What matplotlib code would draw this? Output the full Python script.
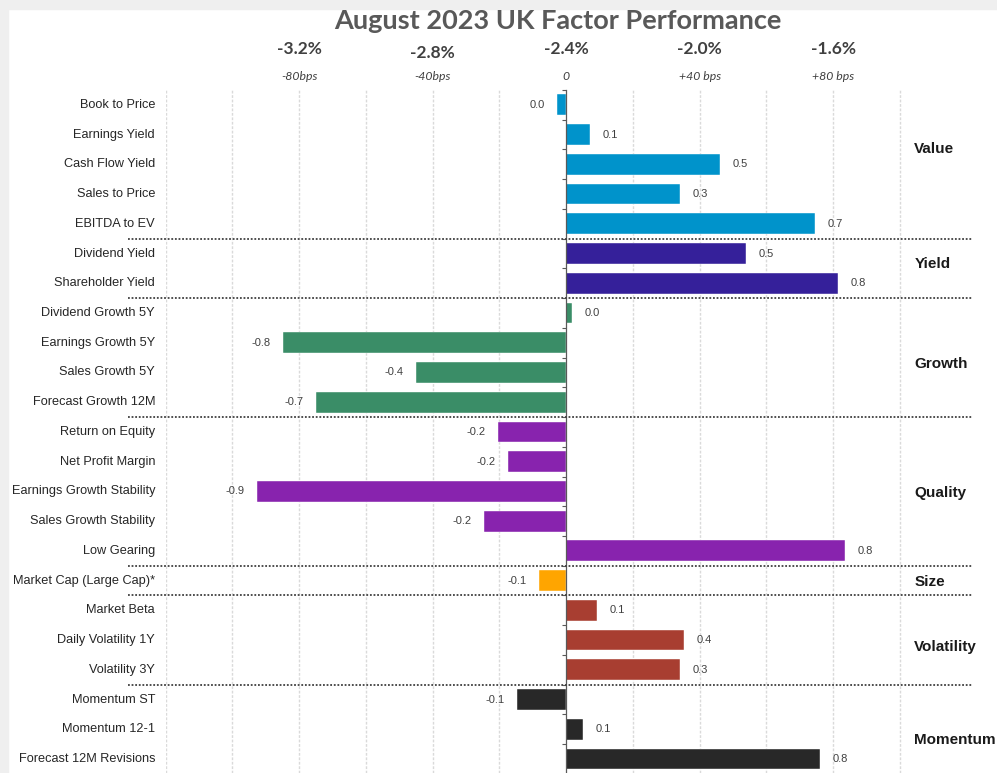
import matplotlib
matplotlib.use("Agg")
import matplotlib.pyplot as plt
from matplotlib.patches import Rectangle
import matplotlib.transforms as mtrans

# ---------------- data ----------------
factors = ["Book to Price", "Earnings Yield", "Cash Flow Yield", "Sales to Price", "EBITDA to EV",
           "Dividend Yield", "Shareholder Yield",
           "Dividend Growth 5Y", "Earnings Growth 5Y", "Sales Growth 5Y", "Forecast Growth 12M",
           "Return on Equity", "Net Profit Margin", "Earnings Growth Stability", "Sales Growth Stability", "Low Gearing",
           "Market Cap (Large Cap)*",
           "Market Beta", "Daily Volatility 1Y", "Volatility 3Y",
           "Momentum ST", "Momentum 12-1", "Forecast 12M Revisions"]
values = [-0.027, 0.072, 0.46, 0.342, 0.745,
          0.54, 0.815,
          0.018, -0.847, -0.449, -0.749,
          -0.203, -0.173, -0.927, -0.245, 0.837,
          -0.08,
          0.093, 0.354, 0.342,
          -0.147, 0.052, 0.762]
groups = ["Value", "Yield", "Growth", "Quality", "Size", "Volatility", "Momentum"]
group_sizes = [5, 2, 4, 5, 1, 3, 3]
group_colors = ["#0093CB", "#35209A", "#3A8D67", "#8823AE", "#FFA500", "#A83E31", "#282828"]
group_label_rows = [1.5, 5.35, 8.7, 13.05, 16.05, 18.23, 21.36]
benchmark = -2.4
top_ticks = [-0.8, -0.4, 0.0, 0.4, 0.8]
top_tick_labels = ["-3.2%", "-2.8%", "-2.4%", "-2.0%", "-1.6%"]
bps_labels = ["-80bps", "-40bps", "0", "+40 bps", "+80 bps"]
grid_ticks = [-1.2, -1.0, -0.8, -0.6, -0.4, -0.2, 0.2, 0.4, 0.6, 0.8, 1.0]
title = "August 2023 UK Factor Performance"

# ---------------- figure ----------------
W, H = 997, 773
fig = plt.figure(figsize=(W / 100, H / 100), dpi=100)
fig.patch.set_facecolor("white")
# light gray frame strips
fig.patches.append(Rectangle((0, 0), 8 / W, 1, transform=fig.transFigure, color="#efefef", zorder=0))
fig.patches.append(Rectangle((0, 1 - 9 / H), 1, 9 / H, transform=fig.transFigure, color="#efefef", zorder=0))

ax_left, ax_right = 165.5, 972
ax_top, ax_bottom = 90, 773
ax = fig.add_axes([ax_left / W, 1 - ax_bottom / H, (ax_right - ax_left) / W, (ax_bottom - ax_top) / H])
ax.set_facecolor("none")
ax.set_xlim(-1.2, 1.216)
ax.set_ylim(22.47, -0.5)

colors = []
for c, n in zip(group_colors, group_sizes):
    colors += [c] * n
ypos = list(range(len(factors)))

# grid
for g in grid_ticks:
    ax.axvline(g, color="#dadada", lw=1.0, ls=(0, (2, 1.2)), zorder=0)

ax.barh(ypos, values, height=0.7, color=colors, zorder=2, edgecolor="white", linewidth=0.3)

# spines
for s in ["top", "right", "bottom"]:
    ax.spines[s].set_visible(False)
ax.spines["left"].set_position(("data", 0))
ax.spines["left"].set_color("#595959")
ax.spines["left"].set_linewidth(0.9)
ax.spines["left"].set_zorder(3)
ax.set_xticks([])
ax.set_yticks([y + 0.5 for y in ypos[:-1]] + [-0.5])
ax.tick_params(axis="y", length=3, width=0.8, color="#595959", direction="out", labelleft=False)

# value labels
for y, v in zip(ypos, values):
    lab = f"{v:.1f}"
    if lab == "-0.0":
        lab = "0.0"
    if v >= 0:
        ax.annotate(lab, (v, y), xytext=(9, 0), textcoords="offset points", ha="left", va="center",
                    fontsize=8, color="#404040", family="Liberation Sans")
    else:
        ax.annotate(lab, (v, y), xytext=(-9, 0), textcoords="offset points", ha="right", va="center",
                    fontsize=8, color="#404040", family="Liberation Sans")

# category labels
ytr = ax.get_yaxis_transform()
lab_x = (155 - ax_left) / (ax_right - ax_left)
for y, f in zip(ypos, factors):
    ax.text(lab_x, y, f, transform=ytr, ha="right", va="center", fontsize=9.2,
            color="#262626", family="Liberation Sans")

# group separators and labels
sep_x0 = (128 - ax_left) / (ax_right - ax_left)
start = 0
for i, n in enumerate(group_sizes):
    end = start + n
    if i < len(group_sizes) - 1:
        ax.plot([sep_x0, 1.0], [end - 0.5, end - 0.5], transform=ytr, color="#404040",
                lw=1.3, ls=(0, (1, 1)), clip_on=False, zorder=4)
    ax.text(1.043, group_label_rows[i], groups[i], ha="left", va="center", fontsize=11,
            fontweight="bold", color="#1a1a1a", family="Liberation Sans", clip_on=False)
    start = end

# top axis labels
ttr = mtrans.blended_transform_factory(ax.transData, fig.transFigure)
for i, (t, l, b) in enumerate(zip(top_ticks, top_tick_labels, bps_labels)):
    dy = 4 if l == "-2.8%" else 0
    ax.text(t, 1 - (49 + dy) / H, l, transform=ttr, ha="center", va="center", fontsize=12.5,
            color="#404040", family="Lato", fontweight="bold")
    ax.text(t, 1 - 76 / H, b, transform=ttr, ha="center", va="center", fontsize=8.8,
            color="#404040", family="Lato", style="italic")

fig.text(558 / W, 1 - 21 / H, title, ha="center", va="center", fontsize=19.5,
         fontweight="bold", color="#595959", family="Lato")

fig.savefig("out.png", dpi=100, facecolor=fig.get_facecolor())
